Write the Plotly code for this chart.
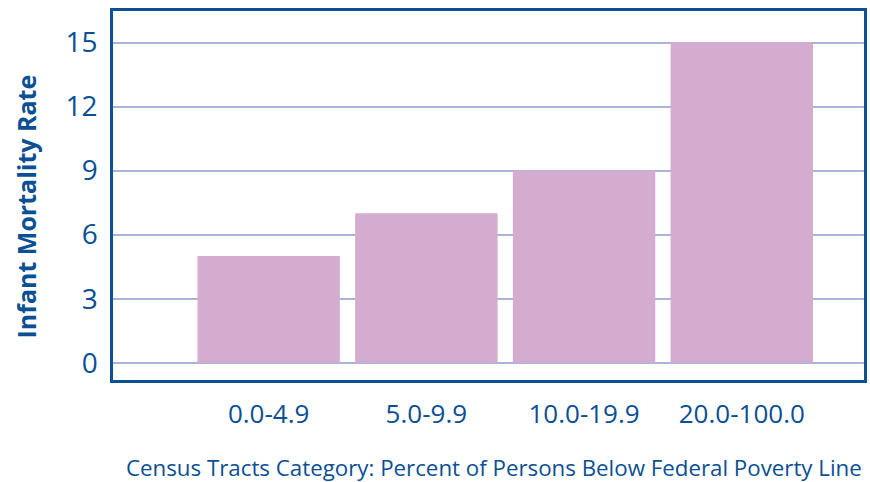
import plotly.graph_objects as go

# Infant mortality rate by census tract poverty category
categories = ["0.0-4.9", "5.0-9.9", "10.0-19.9", "20.0-100.0"]
mortality_rate = [5, 7, 9, 15]
y_ticks = [0, 3, 6, 9, 12, 15]

BLUE = "#0b4f94"
GRID = "#a9b4d6"
BAR = "#d3acd0"
FONT = "Open Sans"

positions = list(range(len(categories)))

fig = go.Figure(
    go.Bar(
        x=positions,
        y=mortality_rate,
        width=0.903,
        marker=dict(color=BAR, line=dict(width=0)),
        hoverinfo="skip",
    )
)

fig.update_layout(
    width=870,
    height=482,
    margin=dict(l=113, r=3, t=11, b=102),
    paper_bgcolor="white",
    plot_bgcolor="white",
    showlegend=False,
    font=dict(family=FONT, color=BLUE),
    xaxis=dict(
        range=[-0.987, 3.775],
        tickmode="array",
        tickvals=positions,
        ticktext=categories,
        tickfont=dict(size=26, color=BLUE),
        showgrid=False,
        zeroline=False,
        showline=True,
        linecolor=BLUE,
        linewidth=2.5,
        mirror=True,
        ticks="",
        ticklabelstandoff=9,
    ),
    yaxis=dict(
        range=[-0.808, 16.478],
        tickmode="array",
        tickvals=y_ticks,
        tickfont=dict(size=28, color=BLUE),
        showgrid=True,
        gridcolor=GRID,
        gridwidth=2.3,
        zeroline=False,
        showline=True,
        linecolor=BLUE,
        linewidth=2.5,
        mirror=True,
        ticks="",
        ticklabelstandoff=7,
    ),
    annotations=[
        dict(
            text="Census Tracts Category: Percent of Persons Below Federal Poverty Line",
            xref="paper",
            yref="paper",
            x=1.0,
            y=-0.238,
            xanchor="right",
            yanchor="middle",
            showarrow=False,
            font=dict(family=FONT, size=22.3, color=BLUE),
        ),
        dict(
            text="<b>Infant Mortality Rate</b>",
            xref="paper",
            yref="paper",
            x=-0.116,
            y=0.47,
            xanchor="center",
            yanchor="middle",
            textangle=-90,
            showarrow=False,
            font=dict(family=FONT, size=25, color=BLUE),
        ),
    ],
)

fig.write_html("out.html")
